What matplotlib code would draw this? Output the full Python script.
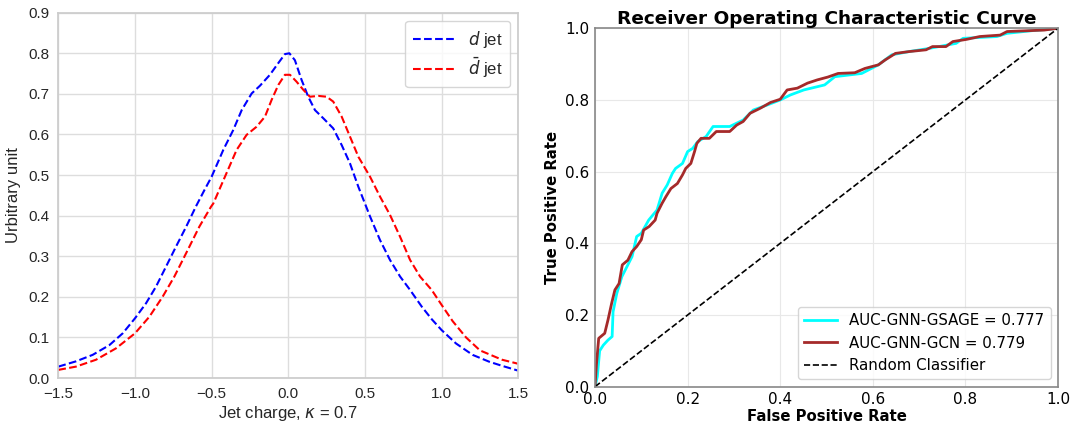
import matplotlib
matplotlib.use("Agg")
import matplotlib.pyplot as plt
import numpy as np

# left panel: jet charge distributions
charge_d = [-1.5, -1.385, -1.276, -1.167, -1.08, -1.0, -0.928, -0.863, -0.798, -0.732,
            -0.667, -0.602, -0.547, -0.5, -0.424, -0.359, -0.304, -0.239, -0.185, -0.12,
            -0.065, -0.022, 0.007, 0.043, 0.087, 0.13, 0.174, 0.228, 0.293, 0.348, 0.402,
            0.457, 0.533, 0.598, 0.663, 0.729, 0.794, 0.870, 0.935, 1.0, 1.094, 1.202,
            1.311, 1.394, 1.5]
d_jet = [0.028, 0.041, 0.057, 0.081, 0.110, 0.147, 0.184, 0.225, 0.274, 0.324,
         0.372, 0.423, 0.463, 0.496, 0.562, 0.611, 0.660, 0.701, 0.720, 0.747,
         0.776, 0.798, 0.800, 0.783, 0.734, 0.693, 0.660, 0.640, 0.615, 0.574, 0.529,
         0.471, 0.398, 0.340, 0.291, 0.250, 0.217, 0.176, 0.145, 0.118, 0.085, 0.057,
         0.040, 0.030, 0.018]

charge_dbar = [-1.5, -1.385, -1.254, -1.124, -1.0, -0.906, -0.82, -0.743, -0.667, -0.58,
               -0.504, -0.489, -0.413, -0.337, -0.272, -0.207, -0.152, -0.109, -0.065,
               -0.022, 0.011, 0.054, 0.098, 0.141, 0.196, 0.25, 0.293, 0.348, 0.402, 0.457,
               0.533, 0.598, 0.663, 0.729, 0.794, 0.859, 0.935, 1.0, 1.072, 1.159, 1.25,
               1.394, 1.5]
dbar_jet = [0.020, 0.028, 0.045, 0.073, 0.110, 0.151, 0.200, 0.250, 0.307, 0.373,
            0.422, 0.430, 0.496, 0.562, 0.599, 0.619, 0.644, 0.685, 0.722,
            0.747, 0.747, 0.730, 0.710, 0.693, 0.695, 0.693, 0.681, 0.644, 0.595, 0.545,
            0.496, 0.447, 0.402, 0.348, 0.291, 0.250, 0.217, 0.180, 0.140, 0.100, 0.068,
            0.045, 0.035]

# right panel: ROC curves
fpr_gcn = [0.0, 0.003, 0.008, 0.021, 0.028, 0.036, 0.043, 0.052, 0.059, 0.071, 0.08, 0.09,
           0.10, 0.105, 0.117, 0.13, 0.134, 0.145, 0.153, 0.164, 0.178, 0.189, 0.196, 0.207,
           0.215, 0.22, 0.229, 0.247, 0.262, 0.291, 0.306, 0.32, 0.335, 0.357, 0.379, 0.40,
           0.415, 0.437, 0.459, 0.48, 0.503, 0.525, 0.561, 0.583, 0.612, 0.627, 0.649, 0.678,
           0.715, 0.729, 0.758, 0.773, 0.802, 0.831, 0.875, 0.89, 0.97, 1.0]
tpr_gcn = [0.0, 0.06, 0.135, 0.149, 0.186, 0.233, 0.27, 0.288, 0.34, 0.353, 0.377, 0.391,
           0.41, 0.437, 0.447, 0.465, 0.484, 0.512, 0.53, 0.553, 0.567, 0.591, 0.609, 0.623,
           0.656, 0.679, 0.693, 0.693, 0.712, 0.712, 0.73, 0.74, 0.763, 0.777, 0.793, 0.802,
           0.828, 0.833, 0.847, 0.856, 0.864, 0.874, 0.876, 0.888, 0.898, 0.912, 0.93, 0.935,
           0.94, 0.949, 0.949, 0.963, 0.969, 0.977, 0.981, 0.991, 0.995, 1.0]
fpr_sage = [0.0, 0.005, 0.01, 0.018, 0.028, 0.037, 0.039, 0.047, 0.058, 0.069, 0.08, 0.09,
            0.10, 0.116, 0.134, 0.145, 0.156, 0.167, 0.174, 0.189, 0.20, 0.211, 0.222, 0.24,
            0.255, 0.291, 0.32, 0.342, 0.372, 0.40, 0.422, 0.451, 0.496, 0.518, 0.576, 0.612,
            0.641, 0.678, 0.722, 0.78, 0.795, 0.868, 0.89, 0.941, 1.0]
tpr_sage = [0.0, 0.028, 0.10, 0.116, 0.13, 0.14, 0.209, 0.26, 0.307, 0.335, 0.363, 0.419,
            0.428, 0.465, 0.493, 0.54, 0.563, 0.595, 0.609, 0.623, 0.656, 0.665, 0.684, 0.698,
            0.726, 0.726, 0.744, 0.772, 0.786, 0.80, 0.814, 0.828, 0.842, 0.865, 0.874, 0.898,
            0.926, 0.935, 0.944, 0.958, 0.972, 0.977, 0.986, 0.993, 1.0]
auc_sage = 0.777
auc_gcn = 0.779

W, H = 1071, 422
fig = plt.figure(figsize=(W / 100, H / 100), dpi=100)

# left: seaborn-whitegrid look, Arial-like font
ink = "#262626"
ax1 = fig.add_axes([58.3 / W, 1 - 378 / H, 460 / W, 365.3 / H])
ax1.set_facecolor("white")
for s in ax1.spines.values():
    s.set_color("#cccccc")
    s.set_linewidth(1.25)
ax1.grid(True, color="#dddddd", linewidth=1.0)
ax1.set_axisbelow(True)
ax1.tick_params(length=0, labelsize=11, pad=6.5, labelcolor=ink)
ax1.plot(charge_d, d_jet, color="blue", ls="--", lw=1.5, label=r"$d$ jet")
ax1.plot(charge_dbar, dbar_jet, color="red", ls="--", lw=1.5, label=r"$\bar{d}$ jet")
ax1.set_xlim(-1.5, 1.5)
ax1.set_ylim(0, 0.9)
ax1.set_xticks(np.arange(-1.5, 1.51, 0.5))
ax1.set_yticks(np.arange(0, 0.91, 0.1))
ax1.set_xticklabels(["\u22121.5", "\u22121.0", "\u22120.5", "0.0", "0.5", "1.0", "1.5"])
for lab in ax1.get_xticklabels() + ax1.get_yticklabels():
    lab.set_family("Liberation Sans")
ax1.set_xlabel(r"Jet charge, $\kappa$ = 0.7", fontsize=12, family="Liberation Sans",
               color=ink, labelpad=2)
ax1.set_ylabel("Urbitrary unit", fontsize=12, family="Liberation Sans", color=ink,
               labelpad=5)
leg1 = ax1.legend(loc="upper right", prop={"family": "Liberation Sans", "size": 12},
                  handlelength=2.5, borderpad=0.45, labelspacing=0.35, fancybox=True,
                  borderaxespad=0.5)
leg1.get_frame().set_edgecolor("#cccccc")
for t in leg1.get_texts():
    t.set_color(ink)

# right: ROC
ax2 = fig.add_axes([595 / W, 1 - 386.7 / H, 463 / W, 358.4 / H])
ax2.plot(fpr_sage, tpr_sage, color="cyan", lw=2, label=f"AUC-GNN-GSAGE = {auc_sage:.3f}")
ax2.plot(fpr_gcn, tpr_gcn, color="brown", lw=2, label=f"AUC-GNN-GCN = {auc_gcn:.3f}")
ax2.plot([0, 1], [0, 1], color="black", ls="--", lw=1.2, label="Random Classifier")
ax2.set_xlim(0, 1)
ax2.set_ylim(0, 1)
ax2.grid(True, color="#e8e8e8", linewidth=0.8)
ax2.set_axisbelow(True)
for s in ax2.spines.values():
    s.set_color("#888888")
    s.set_linewidth(1.2)
ax2.tick_params(length=0, labelsize=11, pad=4)
ax2.set_title("Receiver Operating Characteristic Curve", fontsize=13.3, fontweight="bold",
              pad=3)
ax2.set_xlabel("False Positive Rate", fontsize=10.7, fontweight="bold", labelpad=1)
ax2.set_ylabel("True Positive Rate", fontsize=10.7, fontweight="bold", labelpad=4)
ax2.legend(loc="lower right", fontsize=10.8, handlelength=2.2)

fig.savefig("out.png", dpi=100)
plt.close(fig)
